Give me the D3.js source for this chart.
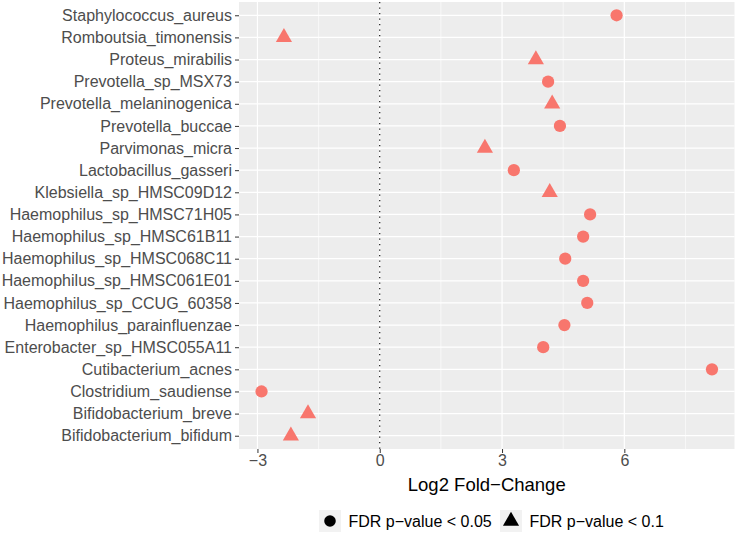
<!DOCTYPE html>
<html>
<head>
<meta charset="utf-8">
<script src="https://cdn.jsdelivr.net/npm/d3@7"></script>
<style>
  body { margin: 0; background: #fff; }
  text { font-family: "Liberation Sans", Arial, sans-serif; }
</style>
</head>
<body>
<div id="chart"></div>
<script>
// Data (top to bottom)
const taxa = [
  "Staphylococcus_aureus", "Romboutsia_timonensis", "Proteus_mirabilis",
  "Prevotella_sp_MSX73", "Prevotella_melaninogenica", "Prevotella_buccae",
  "Parvimonas_micra", "Lactobacillus_gasseri", "Klebsiella_sp_HMSC09D12",
  "Haemophilus_sp_HMSC71H05", "Haemophilus_sp_HMSC61B11", "Haemophilus_sp_HMSC068C11",
  "Haemophilus_sp_HMSC061E01", "Haemophilus_sp_CCUG_60358", "Haemophilus_parainfluenzae",
  "Enterobacter_sp_HMSC055A11", "Cutibacterium_acnes", "Clostridium_saudiense",
  "Bifidobacterium_breve", "Bifidobacterium_bifidum"
];
const log2fc = [5.81, -2.35, 3.83, 4.13, 4.23, 4.42, 2.58, 3.29, 4.17, 5.16,
                4.99, 4.55, 4.99, 5.09, 4.53, 4.01, 8.15, -2.90, -1.76, -2.18];
// 0 = FDR p-value < 0.05, 1 = FDR p-value < 0.1
const sig = [0, 1, 1, 0, 1, 0, 1, 0, 1, 0, 0, 0, 0, 0, 0, 0, 0, 0, 1, 1];
const legendLabels = ["FDR p\u2212value < 0.05", "FDR p\u2212value < 0.1"];
const xTicks = [-3, 0, 3, 6];
const xMinor = [-1.5, 1.5, 4.5, 7.5];

const data = taxa.map((t, i) => ({ taxon: t, value: log2fc[i], sig: sig[i] }));

const width = 737, height = 537;
const panel = { left: 239, right: 734.5, top: 2, bottom: 449 };

const svg = d3.select("#chart").append("svg")
  .attr("width", width)
  .attr("height", height);

const ext = d3.extent(log2fc);
const pad = (ext[1] - ext[0]) * 0.05;
const x = d3.scaleLinear()
  .domain([ext[0] - pad, ext[1] + pad])
  .range([panel.left, panel.right]);

const y = d3.scalePoint()
  .domain(taxa)
  .range([panel.top, panel.bottom])
  .padding(0.6);

const shapes = [d3.symbolCircle, d3.symbolTriangle];
const color = "#F8766D";

// Panel background
svg.append("rect")
  .attr("x", panel.left).attr("y", panel.top)
  .attr("width", panel.right - panel.left)
  .attr("height", panel.bottom - panel.top)
  .attr("fill", "#EDEDED");

// grid
svg.append("g").selectAll("line")
  .data(xMinor)
  .join("line")
  .attr("x1", d => x(d)).attr("x2", d => x(d))
  .attr("y1", panel.top).attr("y2", panel.bottom)
  .attr("stroke", "#fff").attr("stroke-width", 0.6);

svg.append("g").selectAll("line")
  .data(xTicks)
  .join("line")
  .attr("x1", d => x(d)).attr("x2", d => x(d))
  .attr("y1", panel.top).attr("y2", panel.bottom)
  .attr("stroke", "#fff").attr("stroke-width", 1.2);

svg.append("g").selectAll("line")
  .data(taxa)
  .join("line")
  .attr("x1", panel.left).attr("x2", panel.right)
  .attr("y1", d => y(d)).attr("y2", d => y(d))
  .attr("stroke", "#fff").attr("stroke-width", 1.2);

// zero reference line
svg.append("line")
  .attr("x1", x(0)).attr("x2", x(0))
  .attr("y1", panel.top).attr("y2", panel.bottom)
  .attr("stroke", "#000")
  .attr("stroke-width", 1.1)
  .attr("stroke-dasharray", "1.3,4.2");

// points
svg.append("g").selectAll("path")
  .data(data)
  .join("path")
  .attr("transform", d => `translate(${x(d.value)},${y(d.taxon)})`)
  .attr("d", d => d3.symbol().type(shapes[d.sig]).size(d.sig ? 113 : 118)())
  .attr("fill", color);

// y axis
const yAxis = svg.append("g")
  .attr("transform", `translate(${panel.left},0)`)
  .call(d3.axisLeft(y).tickSize(4).tickPadding(3));
yAxis.select(".domain").remove();
yAxis.selectAll(".tick line").attr("stroke", "#333").attr("stroke-width", 1);
yAxis.selectAll(".tick text")
  .attr("fill", "#4D4D4D")
  .style("font-size", "16px")
  .style("font-family", "'Liberation Sans', Arial, sans-serif");

// x axis
const xAxis = svg.append("g")
  .attr("transform", `translate(0,${panel.bottom})`)
  .call(d3.axisBottom(x).tickValues(xTicks).tickSize(4).tickPadding(2)
    .tickFormat(d => d < 0 ? "\u2212" + Math.abs(d) : d));
xAxis.select(".domain").remove();
xAxis.selectAll(".tick line").attr("stroke", "#333").attr("stroke-width", 1);
xAxis.selectAll(".tick text")
  .attr("fill", "#4D4D4D")
  .style("font-size", "16px")
  .style("font-family", "'Liberation Sans', Arial, sans-serif");

// x title
svg.append("text")
  .attr("x", (panel.left + panel.right) / 2)
  .attr("y", 491)
  .attr("text-anchor", "middle")
  .style("font-size", "18.5px")
  .attr("fill", "#000")
  .text("Log2 Fold\u2212Change");

// legend
const legendX = [330, 511];
const legend = svg.append("g").selectAll("g")
  .data(legendLabels)
  .join("g")
  .attr("transform", (d, i) => `translate(${legendX[i]},521)`);
legend.append("rect")
  .attr("x", -11).attr("y", -11)
  .attr("width", 22).attr("height", 22)
  .attr("fill", "#F2F2F2");
legend.append("path")
  .attr("d", (d, i) => d3.symbol().type(shapes[i]).size(i ? 113 : 105)())
  .attr("fill", "#000");
legend.append("text")
  .attr("x", (d, i) => i ? 18.5 : 18.5)
  .attr("y", 6)
  .style("font-size", "16px")
  .attr("fill", "#000")
  .text(d => d);
</script>
</body>
</html>
